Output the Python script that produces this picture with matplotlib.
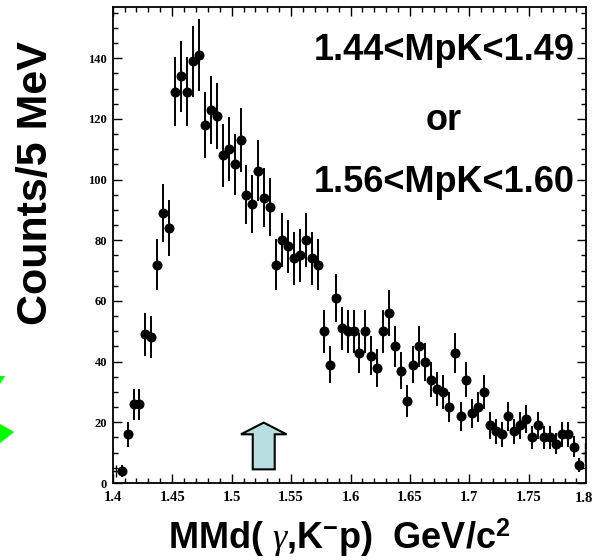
import matplotlib
matplotlib.use("Agg")
import matplotlib.pyplot as plt
import numpy as np
from matplotlib.patches import Polygon
from matplotlib.ticker import MultipleLocator

# 5 MeV bins starting at 1.40 GeV
bin_start = 1.40
bin_width = 0.005
counts = [4, 4, 16, 26, 26, 49, 48, 72, 89, 84,
          129, 134, 129, 139, 141, 118, 123, 121, 108, 110,
          105, 113, 95, 92, 103, 94, 91, 72, 80, 78,
          74, 75, 80, 74, 72, 50, 39, 61, 51, 50,
          50, 43, 50, 42, 38, 50, 56, 45, 37, 27,
          39, 45, 40, 34, 31, 30, 25, 43, 22, 34,
          23, 25, 30, 19, 17, 16, 22, 17, 19, 21,
          15, 19, 15, 15, 13, 16, 16, 12, 6, 10]
errors = [2.0, 2.0, 4.0, 5.1, 5.1, 7.0, 6.9, 8.5, 9.4, 9.2,
          11.4, 11.6, 11.4, 11.8, 11.9, 10.9, 11.1, 11.0, 10.4, 10.5,
          10.2, 10.6, 9.7, 9.6, 10.1, 9.7, 9.5, 8.5, 8.9, 8.8,
          8.6, 8.7, 8.9, 8.6, 8.5, 7.1, 6.2, 7.8, 7.1, 7.1,
          7.1, 6.6, 7.1, 6.5, 6.2, 7.1, 7.5, 6.7, 6.1, 5.2,
          6.2, 6.7, 6.3, 5.8, 5.6, 5.5, 5.0, 6.6, 4.7, 5.8,
          4.8, 5.0, 5.5, 4.4, 4.1, 4.0, 4.7, 4.1, 4.4, 4.6,
          3.9, 4.4, 3.9, 3.9, 3.6, 4.0, 4.0, 3.5, 2.4, 3.2]

xticks = [1.4, 1.45, 1.5, 1.55, 1.6, 1.65, 1.7, 1.75, 1.8]
xtick_labels = ["1.4", "1.45", "1.5", "1.55", "1.6", "1.65", "1.7", "1.75", "1.8"]
cut_lines = ["1.44<MpK<1.49", "or", "1.56<MpK<1.60"]
arrow_x = 1.527   # position of the marked mass

centers = bin_start + bin_width * (np.arange(len(counts)) + 0.5)
counts = np.array(counts, dtype=float)
errors = np.array(errors)

plt.rcParams['mathtext.fontset'] = 'custom'
plt.rcParams['mathtext.rm'] = 'Liberation Sans:bold'
plt.rcParams['mathtext.bf'] = 'Liberation Sans:bold'
plt.rcParams['mathtext.it'] = 'Liberation Serif:italic'

fig = plt.figure(figsize=(5.94, 5.6), dpi=100)
W, H = 594, 560
ax = fig.add_axes([112.7 / W, 1 - 483 / H, (586 - 112.7) / W, (483 - 7.3) / H])

# points with markers
ax.errorbar(centers[1:-1], counts[1:-1], yerr=errors[1:-1], xerr=bin_width / 2,
            fmt='o', color='black', ms=6.2, elinewidth=1.4, capsize=0)
# edge bins: only the error cross is visible
ax.errorbar(centers[[0, -1]], counts[[0, -1]], yerr=errors[[0, -1]], xerr=bin_width / 2,
            fmt='none', ecolor='black', elinewidth=1.0, capsize=0)

ax.set_xlim(1.4, 1.798)
ax.set_ylim(0, 156.8)

ax.xaxis.set_major_locator(MultipleLocator(0.05))
ax.xaxis.set_minor_locator(MultipleLocator(0.01))
ax.yaxis.set_major_locator(MultipleLocator(20))
ax.yaxis.set_minor_locator(MultipleLocator(5))
ax.set_xticks(xticks[:-1])
ax.set_xticklabels(xtick_labels[:-1])
ax.tick_params(which='both', direction='in', top=True, right=True, width=1.0)
ax.tick_params(which='major', length=6.8)
ax.tick_params(which='minor', length=3.6)
ax.tick_params(axis='x', pad=6)
ax.tick_params(axis='y', pad=4)
for lab in ax.get_xticklabels():
    lab.set_fontfamily('Liberation Serif')
    lab.set_fontweight('bold')
    lab.set_fontsize(10.5)
for lab in ax.get_yticklabels():
    lab.set_fontfamily('Liberation Serif')
    lab.set_fontweight('bold')
    lab.set_fontsize(9)
for sp in ax.spines.values():
    sp.set_linewidth(1.3)

# last label sits right at the figure edge
fig.text(593 / W, 1 - 491.5 / H, xtick_labels[-1], ha='right', va='top',
         fontfamily='Liberation Serif', fontweight='bold', fontsize=10.5)

# cut text
for txt, yc in zip(cut_lines, [51, 120, 182]):
    fig.text(444 / W, 1 - yc / H, txt, ha='center', va='center',
             fontfamily='Liberation Sans', fontweight='bold', fontsize=26)

# arrow marking the mass
hw, sw = 0.0192, 0.00925
arrow = Polygon([(arrow_x - sw, 4.5), (arrow_x + sw, 4.5), (arrow_x + sw, 16.05),
                 (arrow_x + hw, 16.05), (arrow_x, 19.9), (arrow_x - hw, 16.05),
                 (arrow_x - sw, 16.05)],
                closed=True, facecolor='#b7dee1', edgecolor='black', lw=1.5, zorder=3)
ax.add_patch(arrow)

# axis titles
fig.text(36 / W, 1 - 183 / H, "Counts/5 MeV", rotation=90, ha='center', va='center',
         fontfamily='Liberation Sans', fontweight='bold', fontsize=31)
fig.text(339 / W, 1 - 538 / H, r"MMd( $\mathit{\gamma}$,K$^{\mathbf{-}}$p)  GeV/c$^{\mathbf{2}}$",
         ha='center', va='center', fontfamily='Liberation Sans', fontweight='bold', fontsize=26)

# green arrow fragments at the left edge
for pts in ([(0, 376), (5, 376), (0, 384)], [(0, 424), (14, 432), (0, 443)]):
    fig.patches.append(Polygon([(x / W, 1 - y / H) for x, y in pts], closed=True,
                               transform=fig.transFigure, facecolor='#00ff00',
                               edgecolor='none'))

fig.savefig("out.png", dpi=100)
